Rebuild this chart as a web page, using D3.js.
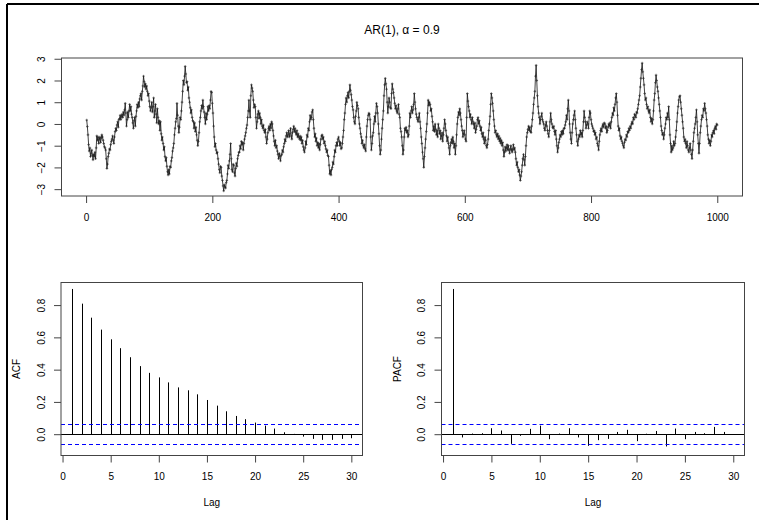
<!DOCTYPE html>
<html>
<head>
<meta charset="utf-8">
<script src="https://cdn.jsdelivr.net/npm/d3@7"></script>
<style>
  body { margin: 0; background: #fff; }
  text { font-family: "Liberation Sans", Arial, Helvetica, sans-serif; fill: #000; }
</style>
</head>
<body>
<svg id="fig" width="759" height="520"></svg>
<script>
// Simulated AR(1) path, one value per time step (t = 1..1000)
const series = [
  0.18,-0.12,-0.5,-0.95,-1.25,-1.1,-1.5,-1.35,-1.2,-1.45,-1.65,-1.4,-1.5,-1.3,-1.6,-1.1,-0.55,-0.75,-0.6,-0.9,
  -0.7,-0.6,-0.85,-0.65,-0.5,-0.6,-0.75,-0.9,-1.05,-1.1,-1.2,-1.6,-2.05,-1.85,-1.5,-1.35,-1.15,-1.2,-0.95,-0.8,
  -0.7,-0.55,-0.75,-0.9,-0.6,-0.35,-0.2,-0.3,-0.05,0.1,-0.15,0.2,0.25,0.4,0.2,0.35,0.45,0.3,0.55,0.4,
  0.65,0.95,0.5,-0.1,0.2,0.55,0.3,0.6,0.9,0.6,0.8,0.45,0.3,0.05,-0.2,0.15,0.3,-0.1,0.35,0.6,
  0.9,0.75,1.0,0.8,1.15,1.3,1.4,1.1,1.5,1.75,2.2,1.95,1.7,1.85,1.6,1.75,1.5,1.3,1.4,1.05,
  0.8,0.6,0.75,1.0,0.55,0.8,1.2,0.3,0.6,0.9,0.45,0.05,0.7,0.3,0.0,0.15,-0.3,0.1,-0.45,-0.75,
  -0.6,-0.9,-1.2,-1.05,-1.5,-1.7,-1.55,-1.95,-2.2,-2.35,-2.1,-2.3,-1.95,-2.0,-1.7,-1.55,-1.25,-1.1,-0.9,-0.5,
  -0.2,0.1,0.25,0.95,0.4,-0.1,-0.4,-0.15,0.3,0.2,0.6,1.0,1.5,2.0,1.8,2.2,2.65,2.3,1.9,1.95,
  1.55,1.7,1.2,1.0,0.75,0.5,0.65,0.3,0.15,0.1,-0.2,0.05,-0.35,-0.15,-0.5,-0.75,-1.0,-0.8,-0.4,0.1,
  0.3,0.6,0.85,0.7,1.1,0.8,0.55,0.3,0.0,0.5,0.2,0.45,0.8,0.6,0.85,0.7,1.1,1.5,1.45,0.95,
  0.5,-0.1,-0.6,-1.05,-0.9,-1.2,-1.35,-1.3,-1.6,-1.85,-2.1,-2.25,-1.95,-2.0,-2.4,-2.6,-2.85,-3.08,-2.8,-2.9,
  -2.95,-2.7,-2.6,-2.3,-1.9,-2.05,-1.7,-1.4,-0.9,-1.6,-2.1,-2.2,-1.85,-1.9,-2.25,-2.4,-2.05,-1.8,-1.95,-1.6,
  -1.45,-1.3,-1.3,-1.0,-1.15,-0.8,-0.95,-0.85,-1.2,-0.9,-0.7,-0.55,-0.4,-0.2,-0.05,0.3,0.6,1.1,0.6,0.3,
  1.3,1.8,1.65,1.5,1.1,0.75,0.9,0.8,0.3,-0.2,0.1,0.45,0.6,0.25,0.5,0.3,0.0,0.2,-0.1,-0.2,
  -0.05,-0.3,-0.4,-0.25,-0.6,-0.9,-0.7,-0.4,-0.2,-0.1,-0.3,0.0,-0.2,0.1,0.0,-0.3,-0.55,-0.8,-1.0,-0.75,
  -1.1,-1.0,-1.25,-1.4,-1.6,-1.35,-1.5,-1.7,-1.45,-1.4,-1.2,-1.3,-1.05,-0.9,-0.7,-0.8,-0.55,-0.4,-0.6,-0.5,
  -0.3,-0.6,-0.45,-0.2,-0.55,-0.7,-0.4,-0.25,-0.1,-0.35,-0.2,-0.4,-0.5,-0.3,-0.6,-0.45,-0.6,-0.7,-0.55,-0.75,
  -0.6,-0.9,-0.75,-1.05,-1.2,-1.3,-1.1,-0.8,-0.95,-0.5,-0.6,-0.2,-0.3,0.1,0.4,0.2,0.3,0.55,0.65,0.2,
  -0.2,-0.6,-0.45,-0.8,-0.65,-1.0,-0.85,-1.1,-0.9,-1.2,-0.95,-0.7,-0.55,-0.5,-0.7,-0.6,-0.9,-0.8,-1.0,-1.15,
  -1.3,-1.2,-1.45,-1.5,-1.9,-2.3,-2.15,-2.35,-2.1,-2.0,-1.75,-1.85,-1.5,-1.2,-1.3,-1.0,-0.85,-1.0,-0.7,-0.6,
  -0.8,-1.0,-0.85,-1.15,-1.1,-0.9,-0.6,-0.3,0.2,0.5,0.9,1.2,1.0,1.3,1.45,1.2,1.5,1.8,1.55,1.35,
  1.1,0.8,0.65,0.3,0.1,0.0,0.35,0.6,1.0,0.85,0.7,0.3,0.0,-0.2,-0.45,-0.6,-0.9,-0.75,-1.0,-1.1,
  -0.95,-1.15,-1.25,-0.6,-0.1,0.2,0.4,0.5,0.45,0.2,-0.6,-1.2,-0.9,-0.55,-0.4,0.0,0.35,0.1,0.5,0.95,
  0.8,0.5,0.0,-0.45,-1.0,-1.4,-1.2,-0.7,-0.2,0.2,0.6,1.3,1.8,2.1,1.85,1.6,1.0,0.5,0.8,1.2,
  1.0,0.75,0.7,1.4,1.85,1.6,1.45,1.2,0.95,0.7,0.85,0.6,0.5,0.7,0.9,0.45,0.3,-0.2,-0.35,-0.6,
  -1.0,-1.4,-1.2,-0.6,-0.2,-0.3,-0.15,-0.4,-0.3,-0.6,-0.5,-0.1,0.5,0.3,0.6,0.8,0.5,0.65,0.9,1.4,
  1.0,0.7,0.45,0.3,0.2,0.1,0.3,0.5,0.1,-0.2,-0.6,-0.9,-1.3,-1.6,-2.0,-1.5,-1.1,-0.7,-0.35,0.0,
  0.5,1.1,0.85,1.0,0.9,0.6,0.7,0.35,0.1,-0.3,-0.1,-0.35,0.0,-0.25,-0.5,-0.3,-0.6,0.0,-0.2,-0.45,
  -0.3,-0.7,-0.55,-0.4,-0.8,-0.5,-0.2,0.2,0.0,-0.3,-0.55,-0.8,-0.6,-0.9,-1.1,-1.4,-1.0,-0.85,-0.7,-0.9,
  -0.6,-0.8,-1.1,-0.9,-1.4,-1.0,-0.5,0.0,0.3,0.55,0.4,0.7,0.5,0.2,-0.1,-0.3,-0.6,-0.45,-0.3,-0.5,
  -0.7,-0.8,0.3,1.4,1.05,0.8,0.6,0.3,0.45,0.2,0.0,0.3,0.1,0.0,-0.2,0.05,-0.4,-0.25,-0.1,0.2,
  0.3,0.0,0.15,-0.1,-0.3,-0.15,-0.45,-0.6,-0.4,-0.7,-0.9,-0.6,-0.75,-1.0,-1.1,-0.95,-0.7,-0.3,0.0,0.35,
  0.9,1.4,1.2,0.95,0.6,0.2,-0.1,-0.4,-0.3,-0.5,-0.6,-0.45,-0.7,-0.55,-0.8,-0.65,-0.9,-0.75,-1.0,-0.85,
  -1.2,-1.5,-1.3,-1.05,-1.25,-1.1,-0.95,-1.2,-1.0,-1.2,-1.35,-1.15,-1.0,-1.2,-1.3,-1.15,-0.95,-1.2,-1.1,-1.3,
  -1.6,-1.9,-1.75,-2.0,-2.2,-2.1,-2.35,-2.6,-2.4,-2.2,-1.9,-1.6,-1.4,-1.65,-1.9,-1.5,-1.0,-0.6,-0.4,-0.25,
  -0.1,-0.3,-0.15,-0.35,-0.4,-0.1,0.2,0.5,0.9,1.2,1.5,2.2,2.7,2.0,1.3,0.8,0.5,0.3,0.0,0.2,
  0.35,0.5,0.2,0.1,0.0,-0.2,-0.3,-0.05,0.1,-0.1,-0.3,-0.45,-0.6,-0.3,0.1,0.5,0.2,0.0,-0.15,-0.2,
  -0.1,-0.35,-0.5,-0.3,-0.7,-1.0,-1.3,-1.1,-0.85,-0.7,-0.5,-0.6,-0.35,-0.5,-0.3,-0.45,-0.2,-0.2,-0.05,0.1,
  0.4,0.2,0.7,1.1,0.6,0.0,-0.4,-0.7,-0.9,-0.4,0.0,0.2,0.4,0.6,0.2,-0.2,-0.5,-0.8,-1.0,-0.7,
  -0.5,-0.6,-0.3,-0.5,-0.4,-0.6,-0.3,0.1,0.6,0.3,0.1,-0.2,-0.05,0.1,0.0,-0.2,0.3,0.6,0.5,0.2,
  0.0,-0.1,-0.2,-0.35,-0.3,-0.5,-0.4,-0.7,-0.6,-0.9,-1.0,-1.2,-0.8,-0.5,-0.3,-0.2,-0.35,-0.1,0.0,-0.15,
  0.05,0.0,-0.2,-0.1,-0.4,-0.3,-0.15,0.0,-0.1,0.05,-0.2,0.1,0.3,0.5,0.4,0.75,0.6,0.9,1.2,1.4,
  1.0,0.4,-0.1,-0.3,-0.2,-0.55,-0.7,-0.6,-0.8,-0.9,-1.0,-1.1,-0.85,-0.7,-0.75,-0.5,-0.6,-0.35,-0.4,-0.2,
  -0.3,-0.1,-0.2,0.0,0.1,0.0,0.3,0.2,0.45,0.4,0.3,0.55,0.5,0.7,0.9,1.1,1.3,1.7,2.1,2.5,
  2.8,2.4,2.1,1.8,1.4,1.1,1.2,0.9,0.7,0.8,0.6,0.5,0.65,0.3,0.1,0.25,0.0,0.2,0.6,1.1,
  1.4,1.9,2.25,2.0,1.7,1.5,1.2,0.9,0.6,0.3,-0.1,-0.3,-0.5,-0.4,-0.7,-0.5,-0.2,0.0,0.3,0.2,
  0.5,0.3,0.8,0.2,-0.5,-0.9,-1.3,-1.0,-1.2,-1.1,-0.8,-1.0,-0.9,-0.6,-0.3,0.1,0.5,0.8,1.1,1.25,
  1.3,1.0,0.7,0.4,0.1,-0.2,-0.6,-0.8,-0.7,-0.9,-1.1,-0.8,-1.0,-1.2,-1.3,-1.1,-0.9,-1.2,-1.4,-1.6,
  -1.2,-0.8,-0.4,-0.2,0.0,0.3,0.65,0.1,-0.5,-0.9,-1.35,-0.9,-0.4,-0.1,0.2,0.4,0.3,0.7,0.6,0.95,
  0.7,0.5,0.2,-0.1,-0.5,-0.7,-0.9,-0.75,-1.0,-0.8,-0.5,-0.6,-0.4,-0.3,-0.45,-0.2,-0.1,-0.25,0.0,-0.05
];

// Sample autocorrelations, lags 1..30
const lags = d3.range(1, 31);
const acfVals = [0.900,0.809,0.722,0.648,0.588,0.533,0.477,0.422,0.380,0.352,
                 0.321,0.290,0.272,0.247,0.212,0.177,0.142,0.113,0.093,0.072,
                 0.053,0.035,0.012,0.002,-0.015,-0.029,-0.035,-0.035,-0.029,-0.025];
const pacfVals = [0.900,-0.020,0.004,0.006,0.037,0.023,-0.060,-0.010,0.033,0.053,
                  -0.031,0.004,0.037,-0.020,-0.072,-0.037,-0.029,0.014,0.027,-0.043,
                  0.003,0.020,-0.076,0.035,-0.031,0.014,0.006,0.045,0.014,-0.005];

const timeTicks = [0, 200, 400, 600, 800, 1000];
const valueTicks = [-3, -2, -1, 0, 1, 2, 3];
const lagTicks = [0, 5, 10, 15, 20, 25, 30];
const corrTicks = [0, 0.2, 0.4, 0.6, 0.8];
const corrLimits = [-0.132, 0.94];

const titleText = "AR(1), \u03B1 = 0.9";
const ciBound = 1.96 / Math.sqrt(series.length);

const svg = d3.select("#fig");

// outer frame (top and left edges)
svg.append("line").attr("x1", 7).attr("y1", 4).attr("x2", 759).attr("y2", 4)
  .attr("stroke", "#000").attr("stroke-width", 2);
svg.append("line").attr("x1", 7).attr("y1", 4).attr("x2", 7).attr("y2", 520)
  .attr("stroke", "#000").attr("stroke-width", 2);

// 4% padding on each side like base graphics
function padded(lo, hi) { const r = hi - lo; return [lo - 0.04 * r, hi + 0.04 * r]; }

const FONT = 10;

function styleAxis(g) {
  g.select(".domain").remove();
  g.selectAll(".tick line").attr("stroke", "#444").attr("stroke-width", 1);
  g.selectAll(".tick text").attr("font-size", FONT).attr("fill", "#000");
}

function frame(p) {
  svg.append("rect")
    .attr("x", p.left).attr("y", p.top)
    .attr("width", p.right - p.left).attr("height", p.bottom - p.top)
    .attr("fill", "none").attr("stroke", "#444").attr("stroke-width", 1);
}

function bottomAxis(p, scale, ticks) {
  const g = svg.append("g").attr("transform", `translate(0,${p.bottom})`)
    .call(d3.axisBottom(scale).tickValues(ticks).tickSize(7).tickPadding(10.5)
      .tickFormat(d3.format("")));
  styleAxis(g);
}

function leftAxis(p, scale, ticks, fmt) {
  const g = svg.append("g").attr("transform", `translate(${p.left},0)`)
    .call(d3.axisLeft(scale).tickValues(ticks).tickSize(7).tickFormat(fmt));
  styleAxis(g);
  g.selectAll(".tick text")
    .attr("x", null).attr("dy", "0.35em")
    .attr("text-anchor", "middle")
    .attr("transform", "translate(-20,0) rotate(-90)");
}

// ---------- time series panel ----------
const pTop = { left: 61.5, right: 742.5, top: 58, bottom: 196 };
const xT = d3.scaleLinear().domain(padded(1, series.length)).range([pTop.left, pTop.right]);
const ext = d3.extent(series);
const yT = d3.scaleLinear().domain(padded(ext[0], ext[1])).range([pTop.bottom, pTop.top]);

bottomAxis(pTop, xT, timeTicks);
leftAxis(pTop, yT, valueTicks, d3.format("d"));

const line = d3.line().x((d, i) => xT(i + 1)).y(d => yT(d));
svg.append("path").datum(series)
  .attr("d", line).attr("fill", "none")
  .attr("stroke", "#111").attr("stroke-width", 0.8);

svg.append("g").selectAll("path").data(series).join("path")
  .attr("transform", (d, i) => `translate(${xT(i + 1)},${yT(d)})`)
  .attr("d", "M-1.3,0H1.3M0,-1.3V1.3")
  .attr("stroke", "#222").attr("stroke-width", 0.6);

frame(pTop);

svg.append("text")
  .attr("x", (pTop.left + pTop.right) / 2).attr("y", 33.8)
  .attr("text-anchor", "middle").attr("font-size", 12)
  .text(titleText);

// ---------- correlogram panels ----------
function correlogram(p, values, label) {
  const x = d3.scaleLinear().domain(padded(1, lags.length)).range([p.left, p.right]);
  const y = d3.scaleLinear().domain(corrLimits).range([p.bottom, p.top]);

  bottomAxis(p, x, lagTicks);
  leftAxis(p, y, corrTicks, d3.format(".1f"));

  // zero reference
  svg.append("line")
    .attr("x1", p.left).attr("x2", p.right)
    .attr("y1", Math.round(y(0)) + 0.5).attr("y2", Math.round(y(0)) + 0.5)
    .attr("stroke", "#000").attr("stroke-width", 1);

  // spikes
  svg.append("g").selectAll("line").data(lags).join("line")
    .attr("x1", d => Math.round(x(d)) + 0.5).attr("x2", d => Math.round(x(d)) + 0.5)
    .attr("y1", y(0)).attr("y2", (d, i) => y(values[i]))
    .attr("stroke", "#000").attr("stroke-width", 1);

  // approximate 95% bounds
  [ciBound, -ciBound].forEach(b => {
    svg.append("line")
      .attr("x1", p.left).attr("x2", p.right)
      .attr("y1", Math.round(y(b)) + 0.5).attr("y2", Math.round(y(b)) + 0.5)
      .attr("stroke", "#0000ff").attr("stroke-width", 1)
      .attr("stroke-dasharray", "4,3");
  });

  frame(p);

  svg.append("text")
    .attr("transform", `translate(${p.left - 44.5},${(p.top + p.bottom) / 2}) rotate(-90)`)
    .attr("text-anchor", "middle").attr("dy", "0.35em")
    .attr("font-size", FONT).text(label);

  svg.append("text")
    .attr("x", (p.left + p.right) / 2).attr("y", p.bottom + 46.5)
    .attr("dy", "0.35em").attr("text-anchor", "middle")
    .attr("font-size", FONT).text("Lag");
}

correlogram({ left: 61, right: 362.5, top: 282.5, bottom: 455.5 }, acfVals, "ACF");
correlogram({ left: 441.5, right: 744.5, top: 282.5, bottom: 455.5 }, pacfVals, "PACF");
</script>
</body>
</html>
